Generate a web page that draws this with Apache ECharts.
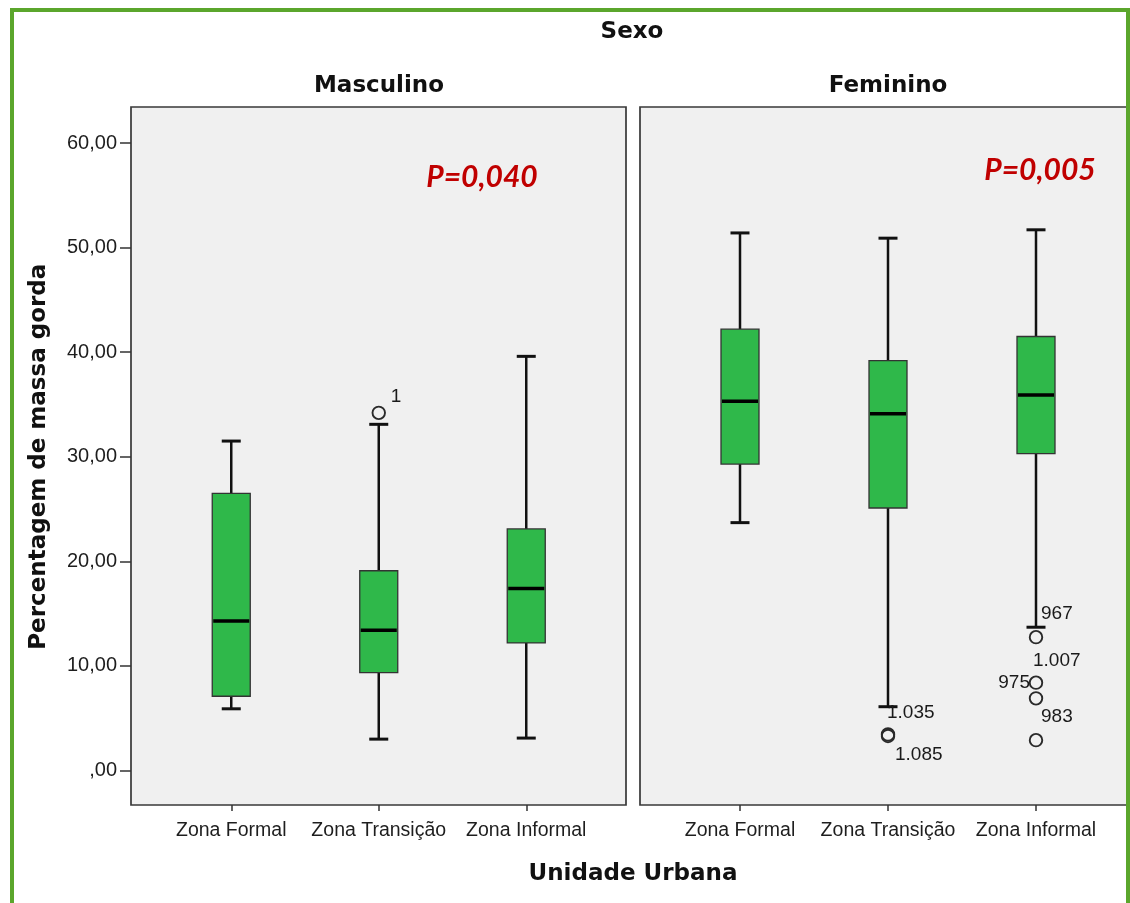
<!DOCTYPE html>
<html>
<head>
<meta charset="utf-8">
<script src="https://cdn.jsdelivr.net/npm/echarts@6/dist/echarts.min.js"></script>
<style>
html,body{margin:0;padding:0;background:#fff;}
#chart{width:1130px;height:903px;}
</style>
</head>
<body>
<div id="chart"></div>
<script>
// ---------- data ----------
const categories = ['Zona Formal', 'Zona Transição', 'Zona Informal'];
const yTickLabels = [',00', '10,00', '20,00', '30,00', '40,00', '50,00', '60,00'];
// [lower whisker, Q1, median, Q3, upper whisker]
const mascFormal    = [5.9, 7.1, 14.3, 26.5, 31.5];
const mascTransicao = [3.0, 9.35, 13.4, 19.1, 33.1];
const mascInformal  = [3.1, 12.2, 17.4, 23.1, 39.6];
const femFormal     = [23.7, 29.3, 35.3, 42.2, 51.4];
const femTransicao  = [6.1, 25.1, 34.1, 39.2, 50.9];
const femInformal   = [13.7, 30.3, 35.9, 41.5, 51.7];
// outliers: [category index, value, case label]
const mascOutliers = [[1, 34.2, '1']];
const femOutliers = [
  [1, 3.45, '1.035'],
  [1, 3.3, '1.085'],
  [2, 12.75, '967'],
  [2, 8.4, '1.007'],
  [2, 6.9, '975'],
  [2, 2.9, '983']
];
const pMasc = 'P=0,040';
const pFem = 'P=0,005';

// ---------- styles (label placement per case) ----------
const labelPlacement = {
  '1':     {offset: [12, -16], align: 'left'},
  '1.035': {offset: [-1, -22], align: 'left'},
  '1.085': {offset: [7, 19], align: 'left'},
  '967':   {offset: [5, -23], align: 'left'},
  '1.007': {offset: [-3, -22], align: 'left'},
  '975':   {offset: [-6, -16], align: 'right'},
  '983':   {offset: [5, -23], align: 'left'}
};

const chart = echarts.init(document.getElementById('chart'), null, {renderer: 'canvas'});

const BOX_GREEN = '#2fb84a';
function renderBox(params, api) {
  const c = api.value(0);
  const lo = api.coord([c, api.value(1)]);
  const q1 = api.coord([c, api.value(2)]);
  const md = api.coord([c, api.value(3)]);
  const q3 = api.coord([c, api.value(4)]);
  const hi = api.coord([c, api.value(5)]);
  const cx = lo[0];
  const bw = 38, cw = 19;
  const lineStyle = {stroke: '#111', lineWidth: 2.5};
  return {
    type: 'group',
    children: [
      {type: 'line', shape: {x1: cx, y1: q3[1], x2: cx, y2: hi[1]}, style: lineStyle},
      {type: 'line', shape: {x1: cx, y1: q1[1], x2: cx, y2: lo[1]}, style: lineStyle},
      {type: 'line', shape: {x1: cx - cw / 2, y1: hi[1], x2: cx + cw / 2, y2: hi[1]}, style: {stroke: '#111', lineWidth: 3}},
      {type: 'line', shape: {x1: cx - cw / 2, y1: lo[1], x2: cx + cw / 2, y2: lo[1]}, style: {stroke: '#111', lineWidth: 3}},
      {type: 'rect', shape: {x: cx - bw / 2, y: q3[1], width: bw, height: q1[1] - q3[1]},
        style: {fill: BOX_GREEN, stroke: '#333', lineWidth: 1.3}},
      {type: 'line', shape: {x1: cx - bw / 2 + 1, y1: md[1], x2: cx + bw / 2 - 1, y2: md[1]}, style: {stroke: '#000', lineWidth: 3.5}}
    ]
  };
}

function boxData(arrs) {
  return arrs.map((a, i) => [i].concat(a));
}
function outlierData(list) {
  return list.map(o => {
    const p = labelPlacement[o[2]];
    return {
      value: [o[0], o[1]],
      name: o[2],
      label: {offset: p.offset, align: p.align}
    };
  });
}

const xTickFont = {fontFamily: 'Liberation Sans', fontSize: 19.5, color: '#1e1e1e'};
const yTickFont = {fontFamily: 'Liberation Sans', fontSize: 20, color: '#1e1e1e'};
const titleFont = {fontFamily: 'DejaVu Sans', fontWeight: 'bold', fontSize: 23, color: '#111'};
const pFont = {fontFamily: 'Lato', fontWeight: 'bold', fontStyle: 'italic', fontSize: 30, color: '#c00000'};

// category axis drawn on a grid whose bottom is the panel bottom
const labelCatAxis = (gi) => ({
  gridIndex: gi, type: 'category', data: categories,
  axisLine: {show: false},
  axisTick: {show: true, alignWithLabel: true, length: 6, lineStyle: {color: '#333', width: 1.5}},
  axisLabel: Object.assign({margin: 16, interval: 0}, xTickFont),
  splitLine: {show: false}
});
// category axis used by the data (hidden, same horizontal extent)
const dataCatAxis = (gi) => ({gridIndex: gi, type: 'category', data: categories, show: false});

const outlierSeries = (xi, yi, list) => ({
  type: 'scatter', xAxisIndex: xi, yAxisIndex: yi,
  data: outlierData(list),
  symbol: 'circle', symbolSize: 12.5,
  itemStyle: {color: 'rgba(0,0,0,0)', borderColor: '#2a2a2a', borderWidth: 1.9, opacity: 1},
  label: {show: true, formatter: '{b}', position: 'inside', verticalAlign: 'middle',
    fontFamily: 'Liberation Sans', fontSize: 19, color: '#1a1a1a',
    textBorderWidth: 0, textBorderColor: 'transparent', opacity: 1},
  z: 5
});

chart.setOption({
  animation: false,
  backgroundColor: '#ffffff',
  title: [
    {text: 'Sexo', left: 632, top: 21, textAlign: 'center', padding: 0, textStyle: titleFont},
    {text: 'Masculino', left: 379, top: 75, textAlign: 'center', padding: 0, textStyle: titleFont},
    {text: 'Feminino', left: 888, top: 75, textAlign: 'center', padding: 0, textStyle: titleFont},
    {text: 'Unidade Urbana', left: 633, top: 863, textAlign: 'center', padding: 0, textStyle: titleFont},
    {text: pMasc, left: 482, top: 162, textAlign: 'center', padding: 0, textStyle: pFont},
    {text: pFem, left: 1040, top: 155, textAlign: 'center', padding: 0, textStyle: pFont}
  ],
  grid: [
    // panel frames
    {left: 131, top: 107, width: 495, height: 698, show: true, backgroundColor: '#f0f0f0', borderColor: '#383838', borderWidth: 1.7},
    {left: 640, top: 107, width: 487, height: 698, show: true, backgroundColor: '#f0f0f0', borderColor: '#383838', borderWidth: 1.7},
    // data grids (y 0..60)
    {left: 157.5, top: 143, width: 442.5, height: 627.5, show: false},
    {left: 666, top: 143, width: 444, height: 627.5, show: false},
    // x-axis label grids (bottom at panel bottom)
    {left: 157.5, top: 107, width: 442.5, height: 698, show: false},
    {left: 666, top: 107, width: 444, height: 698, show: false}
  ],
  xAxis: [
    {gridIndex: 0, type: 'value', show: false, min: 0, max: 1},
    {gridIndex: 1, type: 'value', show: false, min: 0, max: 1},
    dataCatAxis(2),
    dataCatAxis(3),
    labelCatAxis(4),
    labelCatAxis(5)
  ],
  yAxis: [
    {gridIndex: 0, type: 'value', show: false, min: 0, max: 1},
    {gridIndex: 1, type: 'value', show: false, min: 0, max: 1},
    {
      gridIndex: 2, type: 'value', min: 0, max: 60, interval: 10, offset: 26.5,
      axisLine: {show: false},
      axisTick: {show: true, length: 11, lineStyle: {color: '#333', width: 1.5}},
      axisLabel: Object.assign({margin: 14, formatter: (v) => yTickLabels[Math.round(v / 10)]}, yTickFont),
      splitLine: {show: false},
      name: 'Percentagem de massa gorda', nameLocation: 'middle', nameGap: 80, nameRotate: 90,
      nameTextStyle: titleFont
    },
    {gridIndex: 3, type: 'value', min: 0, max: 60, interval: 10, show: false},
    {gridIndex: 4, type: 'value', show: false, min: 0, max: 1},
    {gridIndex: 5, type: 'value', show: false, min: 0, max: 1}
  ],
  series: [
    {type: 'custom', xAxisIndex: 2, yAxisIndex: 2, renderItem: renderBox,
      encode: {x: 0, y: [1, 2, 3, 4, 5]},
      data: boxData([mascFormal, mascTransicao, mascInformal]), z: 3},
    {type: 'custom', xAxisIndex: 3, yAxisIndex: 3, renderItem: renderBox,
      encode: {x: 0, y: [1, 2, 3, 4, 5]},
      data: boxData([femFormal, femTransicao, femInformal]), z: 3},
    outlierSeries(2, 2, mascOutliers),
    outlierSeries(3, 3, femOutliers)
  ],
  graphic: [
    {type: 'rect', z: 100, silent: true,
      shape: {x: 12, y: 10, width: 1116, height: 910},
      style: {fill: 'none', stroke: '#5ba62c', lineWidth: 4}}
  ]
});
</script>
</body>
</html>
